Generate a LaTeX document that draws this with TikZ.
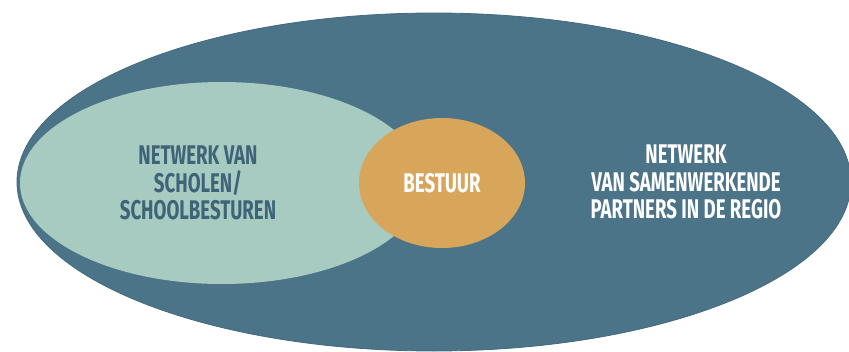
\documentclass[tikz,border=0pt]{standalone}
\usepackage{fontspec}
\newfontfamily\smalfont[FakeStretch=0.69]{Fira Sans Bold}
\definecolor{regioblauw}{HTML}{4C7488}
\definecolor{randblauw}{HTML}{436A7E}
\definecolor{scholengroen}{HTML}{A7CBC1}
\definecolor{bestuuroranje}{HTML}{D8A65A}
\definecolor{tekstblauw}{HTML}{3F6377}
\newcommand{\regiocol}{regioblauw}
\newcommand{\scholencol}{scholengroen}
\newcommand{\bestuurcol}{bestuuroranje}
\usetikzlibrary{shapes.geometric}

\begin{document}
\begin{tikzpicture}[x=1pt, y=-1pt]

    \useasboundingbox[fill=white] (0, 0) rectangle (849, 351);

    % ellipsen
    \node[ellipse, fill=\regiocol, draw=randblauw, line width=0.8pt, inner sep=0pt,
          minimum width=834pt, minimum height=338pt] (regio) at (434, 182) {};
    \node[ellipse, fill=\scholencol, draw=none, inner sep=0pt,
          minimum width=404pt, minimum height=202pt] (scholen) at (222, 183) {};
    \node[ellipse, fill=\bestuurcol, draw=none, inner sep=0pt,
          minimum width=166pt, minimum height=130pt] (bestuur) at (442, 183) {};

    % teksten
    \node[tekstblauw, align=center, font=\smalfont\fontsize{27}{27.5}\selectfont] (scholentekst) at (198, 183)
        {NETWERK VAN\\SCHOLEN/\\SCHOOLBESTUREN};
    \node[white, align=center, font=\smalfont\fontsize{27}{27.5}\selectfont] (bestuurtekst) at (442, 183)
        {BESTUUR};
    \node[white, align=center, font=\smalfont\fontsize{27}{27.5}\selectfont] (regiotekst) at (686, 182)
        {NETWERK\\VAN SAMENWERKENDE\\PARTNERS IN DE REGIO};

\end{tikzpicture}
\end{document}
